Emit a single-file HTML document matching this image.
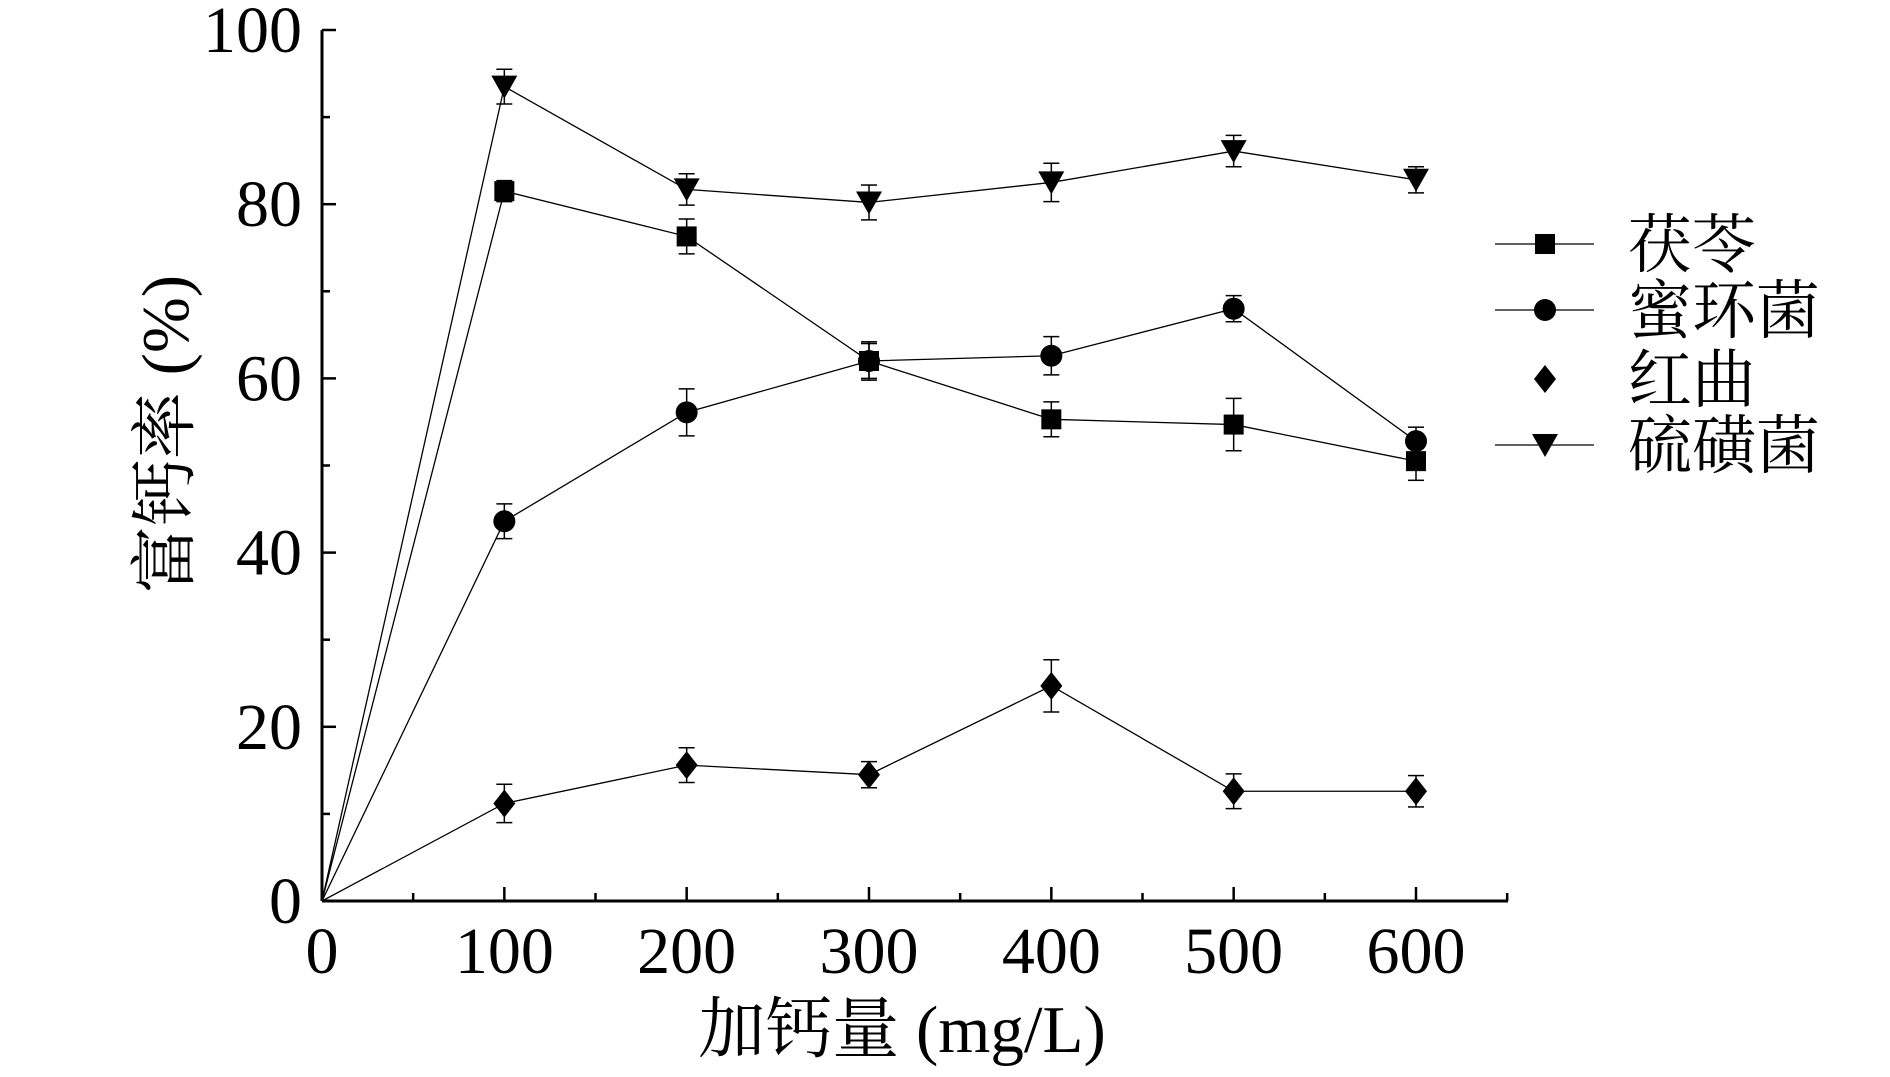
<!DOCTYPE html>
<html><head><meta charset="utf-8"><style>
html,body{margin:0;padding:0;background:#fff;}
svg text{font-family:"Liberation Serif","Noto Serif CJK SC",serif;fill:#000;}
</style></head><body>
<svg id="chart" width="1890" height="1072" xmlns="http://www.w3.org/2000/svg"></svg>
<script>
const categories=[0,100,200,300,400,500,600];
const seriesNames=["茯苓","蜜环菌","红曲","硫磺菌"];
const fulingValues=[0,81.5,76.3,62.0,55.3,54.7,50.5];
const fulingErr=[0,1.2,2.0,2.2,2.0,3.0,2.2];
const mihuanValues=[0,43.6,56.1,62.0,62.6,68.0,52.8];
const mihuanErr=[0,2.0,2.7,2.0,2.2,1.5,1.6];
const hongquValues=[0,11.2,15.6,14.5,24.7,12.6,12.6];
const hongquErr=[0,2.2,2.0,1.5,3.0,2.0,1.8];
const liuhuangValues=[0,93.5,81.7,80.2,82.5,86.1,82.8];
const liuhuangErr=[0,2.0,1.8,2.0,2.2,1.8,1.5];
const yTicks=[0,20,40,60,80,100];
const xTicks=[0,100,200,300,400,500,600];

const NS="http://www.w3.org/2000/svg";
const svg=document.getElementById('chart');
const X0=322,X600=1416,Y0=901,Y100=30,XEND=1508;
const xs=v=>X0+(X600-X0)*v/600;
const ys=v=>Y0+(Y100-Y0)*v/100;
function mk(tag,attrs,parent){const e=document.createElementNS(NS,tag);for(const k in attrs)e.setAttribute(k,attrs[k]);(parent||svg).appendChild(e);return e;}

const axes=mk('g',{});


mk('line',{x1:X0,y1:Y0,x2:XEND,y2:Y0,stroke:'#000','stroke-width':3},axes);
mk('line',{x1:X0,y1:Y0,x2:X0,y2:Y100,stroke:'#000','stroke-width':3},axes);
for(let v=0;v<=100;v+=10){mk('line',{x1:X0,y1:ys(v),x2:X0+(v%20===0?14:8),y2:ys(v),stroke:'#000','stroke-width':2.5},axes);}
for(let v=0;v<=650;v+=50){mk('line',{x1:xs(v),y1:Y0,x2:xs(v),y2:Y0-(v%100===0?14:8),stroke:'#000','stroke-width':2.5},axes);}
yTicks.forEach(v=>{const t=mk('text',{x:X0-20,y:ys(v)+22,'font-size':66,'text-anchor':'end'},axes);t.textContent=v;

});
xTicks.forEach(v=>{const t=mk('text',{x:xs(v),y:Y0+72,'font-size':66,'text-anchor':'middle'},axes);t.textContent=v;

});
const xt=mk('text',{x:902,y:1052,'font-size':67,'text-anchor':'middle'});xt.textContent='加钙量 (mg/L)';


const yt=mk('text',{x:0,y:0,'font-size':67,'text-anchor':'middle',transform:'translate(188,434) rotate(-90)'});yt.textContent='富钙率 (%)';



function marker(type,cx,cy,g){
 if(type==='square')mk('rect',{x:cx-10,y:cy-10,width:20,height:20,fill:'#000'},g);
 else if(type==='circle')mk('circle',{cx:cx,cy:cy,r:11,fill:'#000'},g);
 else if(type==='diamond')mk('polygon',{points:`${cx},${cy-14} ${cx+11},${cy} ${cx},${cy+14} ${cx-11},${cy}`,fill:'#000'},g);
 else mk('polygon',{points:`${cx-13},${cy-11} ${cx+13},${cy-11} ${cx},${cy+12}`,fill:'#000'},g);
}
const series=[[fulingValues,fulingErr,'square','series-fuling'],[mihuanValues,mihuanErr,'circle','series-mihuanjun'],[hongquValues,hongquErr,'diamond','series-hongqu'],[liuhuangValues,liuhuangErr,'triangle','series-liuhuangjun']];
series.forEach(([vals,errs,type,name])=>{
 const g=mk('g',{});
 
 
 mk('polyline',{points:vals.map((v,i)=>xs(categories[i])+','+ys(v)).join(' '),fill:'none',stroke:'#000','stroke-width':1.3},g);
 vals.forEach((v,i)=>{
  const cx=xs(categories[i]),cy=ys(v);
  if(errs[i]>0){const e1=ys(v+errs[i]),e2=ys(v-errs[i]);
   mk('line',{x1:cx,y1:e1,x2:cx,y2:e2,stroke:'#000','stroke-width':1.5},g);
   mk('line',{x1:cx-8,y1:e1,x2:cx+8,y2:e1,stroke:'#000','stroke-width':1.5},g);
   mk('line',{x1:cx-8,y1:e2,x2:cx+8,y2:e2,stroke:'#000','stroke-width':1.5},g);}
  if(i>0)marker(type,cx,cy,g);
 });
});
const legY=[244,310,379,445];
series.forEach(([v,e,type],i)=>{
 const g=mk('g',{});
 
 
 if(type!=='diamond')mk('line',{x1:1495,y1:legY[i],x2:1594,y2:legY[i],stroke:'#000','stroke-width':1.3},g);
 marker(type,1545,legY[i],g);
 const t=mk('text',{x:1628,y:legY[i]+23,'font-size':64},g);t.textContent=seriesNames[i];
});
</script>
</body></html>
